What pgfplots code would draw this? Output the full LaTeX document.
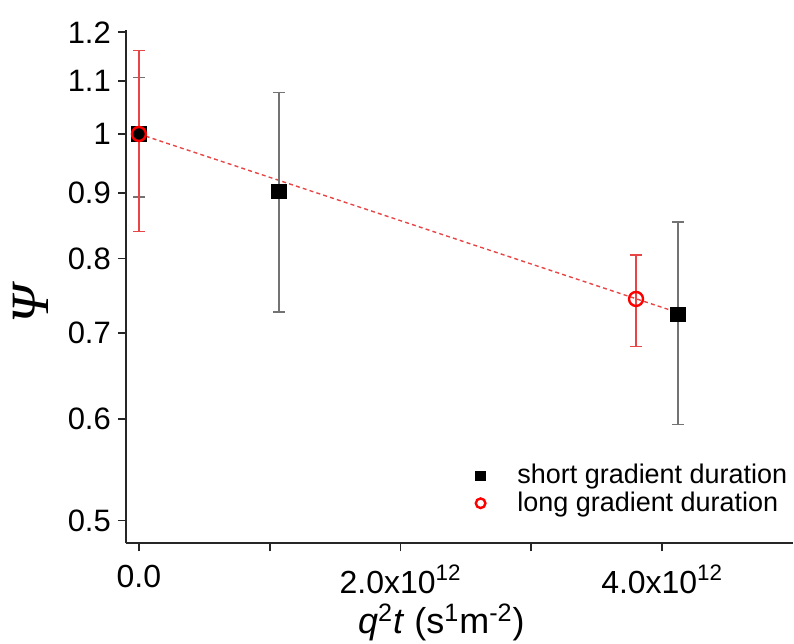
\documentclass[border=0pt]{standalone}
\usepackage{pgfplots}
\pgfplotsset{compat=1.18}
\usepackage{fontspec}
\setmainfont{Liberation Sans}
\newfontfamily\seriffont{Liberation Serif}
\definecolor{errgray}{gray}{0.45}
\definecolor{lred}{RGB}{232,70,70}
\begin{document}
\begin{tikzpicture}
\begin{axis}[
  width=334pt, height=257pt, scale only axis,
  xmode=normal, ymode=log,
  xmin=-0.1e12, xmax=5e12,
  ymin=0.48, ymax=1.205,
  axis x line*=bottom, axis y line*=left,
  axis line style={line width=1pt, black!85},
  tick align=outside,
  tick style={line width=0.9pt, black!85},
  major tick length=4pt, minor tick length=4pt,
  scaled x ticks=false,
  xtick={0,2e12,4e12},
  xticklabels={0.0, 2.0x10\textsuperscript{12}, 4.0x10\textsuperscript{12}},
  minor xtick={1e12,3e12},
  ytick={0.5,0.6,0.7,0.8,0.9,1,1.1,1.2},
  yticklabels={0.5,0.6,0.7,0.8,0.9,1,1.1,1.2},
  minor ytick={},
  log basis y=10,
  yticklabel style={font=\fontsize{15.5}{17}\selectfont},
  xticklabel style={font=\fontsize{16}{18}\selectfont, yshift=-3.5pt},
  xlabel={\textit{q}\textsuperscript{2}\textit{t} (s\textsuperscript{1}m\textsuperscript{-2})},
  xlabel style={font=\fontsize{18}{20}\selectfont, xshift=-9pt, yshift=2pt},
  ylabel={\seriffont\itshape Ψ},
  ylabel style={font=\fontsize{27}{29}\selectfont, at={(axis description cs:-0.142,0.465)}, anchor=center},
  legend style={draw=none, fill=none, at={(axis description cs:0.515,0.170)}, anchor=north west,
    font=\fontsize{13.5}{14}\selectfont, row sep=-1.5pt,
    /tikz/every odd column/.append style={column sep=14pt}},
  legend image post style={mark size=2.4pt},
  legend cell align=left,
]
% dashed fit line
\addplot[lred, dashed, line width=0.7pt, dash pattern=on 2pt off 1.6pt, forget plot]
  coordinates {(0,1.0) (4.12e12,0.726)};
% short gradient duration
\addplot[only marks, mark=square*, mark size=3.6pt, black,
  error bars/.cd, y dir=both, y explicit,
  error bar style={errgray, line width=0.7pt},
  error mark options={errgray, line width=0.7pt, mark size=3pt, rotate=90}]
  coordinates {
    (0, 1.0) +- (0, 0.107)
    (1.07e12, 0.902) +- (0, 0.175)
    (4.12e12, 0.724) +- (0, 0.130)
  };
\addlegendentry{short gradient duration}
% long gradient duration
\addplot[only marks, mark=o, mark size=3.5pt, red, line width=1.2pt,
  mark options={fill=none},
  error bars/.cd, y dir=both, y explicit,
  error bar style={lred, line width=0.6pt},
  error mark options={lred, line width=0.6pt, mark size=3pt, rotate=90}]
  coordinates {
    (0, 1.0) +- (0, 0.161)
    (3.80e12, 0.744) +- (0, 0.061)
  };
\addlegendentry{long gradient duration}
\coordinate (SW) at (rel axis cs:0,0);
\coordinate (NE) at (rel axis cs:1,1);
\end{axis}
\pgfresetboundingbox
\path ([shift={(-63pt,-50pt)}]SW) rectangle ([shift={(0.5pt,15pt)}]NE);
\end{tikzpicture}
\end{document}
